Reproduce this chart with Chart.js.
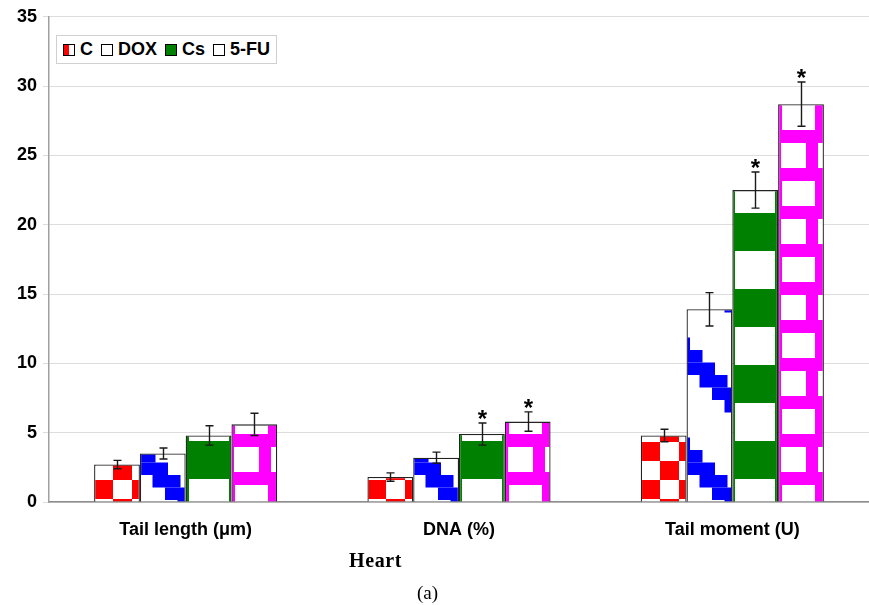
<!DOCTYPE html>
<html>
<head>
<meta charset="utf-8">
<script src="https://cdn.jsdelivr.net/npm/chart.js@4"></script>
<style>
  body { margin: 0; background: #fff; }
  #wrap { position: relative; width: 869px; height: 605px; }
  #legend {
    position: absolute; left: 56px; top: 35px; height: 27px; padding: 0 6px;
    border: 1px solid #d0d0d0; background: #fff;
    display: flex; align-items: center;
    font: bold 18px "Liberation Sans", Arial, sans-serif; color: #000;
  }
  #legend span.item { display: flex; align-items: center; margin-right: 8px; }
  #legend span.item:last-child { margin-right: 0; }
  #legend i { display: inline-block; width: 10px; height: 10px; border: 1px solid #000; margin-right: 5px; }
  .note { position: absolute; font-family: "Liberation Serif", "Times New Roman", serif; color: #000; }
</style>
</head>
<body>
<div id="wrap">
  <canvas id="cometChart" width="869" height="605"></canvas>
  <div id="legend"></div>
  <div class="note" style="left:349px; top:549px; font-size:20px; font-weight:bold; letter-spacing:0.6px;">Heart</div>
  <div class="note" style="left:417px; top:582px; font-size:19px;">(a)</div>
</div>
<script>
// values
const categories = ['Tail length (\u03bcm)', 'DNA (%)', 'Tail moment (U)'];
const seriesNames = ['C', 'DOX', 'Cs', '5-FU'];
const valuesC = [2.7, 1.8, 4.8];
const valuesDOX = [3.5, 3.2, 13.9];
const valuesCs = [4.8, 4.9, 22.5];
const values5FU = [5.6, 5.8, 28.7];
const errC = [0.3, 0.3, 0.45];
const errDOX = [0.4, 0.4, 1.2];
const errCs = [0.7, 0.8, 1.3];
const err5FU = [0.8, 0.7, 1.6];
const starC = [false, false, false];
const starDOX = [false, false, false];
const starCs = [false, true, true];
const star5FU = [false, true, true];
const yTicks = [0, 5, 10, 15, 20, 25, 30, 35];

const CAT_PCT = 0.67;

// pattern tiles
function tile(w, h, draw) {
    const c = document.createElement('canvas');
    c.width = w; c.height = h;
    const g = c.getContext('2d');
    g.fillStyle = '#fff';
    g.fillRect(0, 0, w, h);
    draw(g);
    return c;
}

const tileC = tile(38, 38, g => {
    g.fillStyle = '#ff0000';
    g.fillRect(0, 0, 19, 19);
    g.fillRect(19, 19, 19, 19);
});
const tileDOX = tile(100, 100, g => {
    g.fillStyle = '#0000ff';
    for (let r = 0; r < 8; r++) {
        const x = (r - 1) * 12.5;
        for (const dx of [-100, 0, 100]) g.fillRect(x + dx, r * 12.5, 28, 12.5);
    }
});
const tileCs = tile(46, 76, g => {
    g.fillStyle = '#008000';
    g.fillRect(0, 0, 3, 76);
    g.fillRect(43, 0, 3, 76);
    g.fillRect(3, 0, 40, 38);
});
const tile5FU = tile(46, 76, g => {
    g.fillStyle = '#ff00ff';
    g.fillRect(0, 0, 46, 13);
    g.fillRect(0, 38, 46, 13);
    g.fillRect(0, 13, 4, 25);
    g.fillRect(37, 13, 9, 25);
    g.fillRect(0, 51, 3, 25);
    g.fillRect(28, 51, 12, 25);
});
const tiles = [tileC, tileDOX, tileCs, tile5FU];
const tileOffsetY = [24, 50, 61, 16];

function barFill(context) {
    const chart = context.chart;
    const xs = chart.scales.x;
    const t = tiles[context.datasetIndex];
    if (!xs || !xs.width) return '#fff';
    const catW = xs.width / categories.length;
    const barW = catW * CAT_PCT / 4;
    const left = xs.getPixelForValue(context.dataIndex) - 2 * barW + context.datasetIndex * barW;
    const pat = chart.ctx.createPattern(t, 'repeat');
    pat.setTransform(new DOMMatrix([1, 0, 0, 1, Math.round(left), tileOffsetY[context.datasetIndex]]));
    return pat;
}

const errors = [errC, errDOX, errCs, err5FU];
const stars = [starC, starDOX, starCs, star5FU];

const errorBars = {
    id: 'errorBars',
    afterDatasetsDraw(chart) {
        const ctx = chart.ctx;
        const y = chart.scales.y;
        ctx.save();
        ctx.strokeStyle = '#1a1a1a';
        ctx.lineWidth = 1.4;
        chart.data.datasets.forEach((ds, di) => {
            const meta = chart.getDatasetMeta(di);
            meta.data.forEach((bar, i) => {
                const v = ds.data[i], e = errors[di][i];
                const top = y.getPixelForValue(v + e);
                const bot = y.getPixelForValue(v - e);
                const x = Math.round(bar.x) + 0.5;
                ctx.beginPath();
                ctx.moveTo(x, top); ctx.lineTo(x, bot);
                ctx.moveTo(x - 4, top); ctx.lineTo(x + 4, top);
                ctx.moveTo(x - 4, bot); ctx.lineTo(x + 4, bot);
                ctx.stroke();
                if (stars[di][i]) {
                    ctx.fillStyle = '#000';
                    ctx.font = 'bold 24px "Liberation Sans", Arial, sans-serif';
                    ctx.textAlign = 'center';
                    ctx.textBaseline = 'alphabetic';
                    ctx.fillText('*', x, top + 4);
                }
            });
        });
        ctx.restore();
    }
};

const allValues = [valuesC, valuesDOX, valuesCs, values5FU];

const chart = new Chart(document.getElementById('cometChart').getContext('2d'), {
    type: 'bar',
    data: {
        labels: categories,
        datasets: seriesNames.map((name, i) => ({
            label: name,
            data: allValues[i],
            backgroundColor: barFill,
            borderColor: '#222',
            borderWidth: 1.3,
            categoryPercentage: CAT_PCT,
            barPercentage: 1
        }))
    },
    options: {
        responsive: false,
        animation: false,
        layout: { padding: { top: 16, right: 0, left: 0, bottom: 0 } },
        plugins: { legend: { display: false }, tooltip: { enabled: false } },
        scales: {
            x: {
                grid: { display: false, drawTicks: false },
                border: { color: '#8c8c8c', width: 1.5 },
                ticks: {
                    color: '#000',
                    padding: 17,
                    maxRotation: 0,
                    font: { family: '"Liberation Sans", Arial, sans-serif', size: 18, weight: 'bold' }
                },
                afterFit: s => { s.height = 103; }
            },
            y: {
                min: 0,
                max: 35,
                afterBuildTicks: s => { s.ticks = yTicks.map(v => ({ value: v })); },
                grid: { color: '#dcdcdc', tickLength: 6 },
                border: { color: '#a0a0a0', width: 1.5 },
                ticks: {
                    color: '#000',
                    padding: 6,
                    font: { family: '"Liberation Sans", Arial, sans-serif', size: 18, weight: 'bold' }
                },
                afterFit: s => { s.width = 49; }
            }
        }
    },
    plugins: [errorBars]
});

// legend
const iconBg = ['linear-gradient(to right, #ff0000 50%, #fff 50%)', '#fff', '#008000', '#fff'];
document.getElementById('legend').innerHTML = seriesNames.map((n, i) =>
    `<span class="item"><i style="background:${iconBg[i]}"></i>${n}</span>`).join('');
</script>
</body>
</html>
